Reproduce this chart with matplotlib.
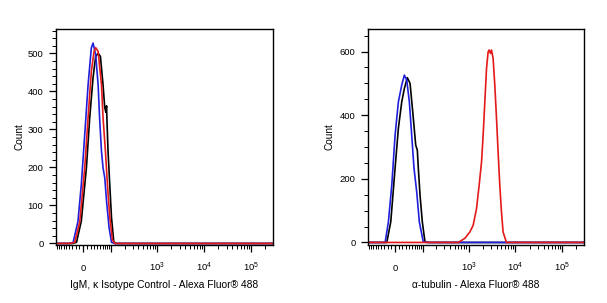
import numpy as np
import matplotlib
matplotlib.use("Agg")
import matplotlib.pyplot as plt
from matplotlib.ticker import FixedLocator, NullFormatter

plt.rcParams['font.family'] = ['Liberation Sans', 'DejaVu Sans']
plt.rcParams['mathtext.fontset'] = 'custom'
plt.rcParams['mathtext.rm'] = 'Liberation Sans'
plt.rcParams['mathtext.it'] = 'Liberation Sans'
plt.rcParams['mathtext.default'] = 'regular'

# ---------------- data (fluorescence intensity, counts) ----------------
XMIN, XMAX = -95, 2.9e5

# Left panel: IgM, kappa isotype control
l_black_x = [XMIN, -30, -18, -5, 8.5, 17.5, 27, 35, 43, 51, 61, 68, 73, 76, 78, 83, 91.5, 101, 114, 125, XMAX]
l_black_y = [0, 0, 3, 59, 199, 331, 436, 492, 500, 492, 417, 357, 345, 362, 321, 242, 155, 68, 6, 0, 0]
l_blue_x = [XMIN, -40, -28, -14, -5, 4, 13, 22, 27, 35, 43, 48, 55, 61, 68, 76, 88, 101, 120, XMAX]
l_blue_y = [0, 0, 2, 58, 155, 286, 417, 514, 527, 496, 417, 331, 242, 199, 173, 111, 42, 3, 0, 0]
l_red_x = [XMIN, -40, -23, -9, 4, 13, 22, 30, 35, 43, 55, 61, 71, 80, 92, 106, 121, XMAX]
l_red_y = [0, 0, 3, 58, 199, 331, 452, 505, 515, 505, 417, 331, 242, 155, 68, 10, 0, 0]

# Right panel: alpha-tubulin
r_black_x = [XMIN, -35, -22.6, -11.5, 0, 8.8, 18, 25.5, 34.5, 43.4, 52.9, 64.6, 71.5, 75.9, 84, 95.8, 111, 140, XMAX]
r_black_y = [0, 0, 0, 65, 234, 359, 442, 484, 518, 500, 411, 306, 290, 234, 149, 65, 2, 0, 0]
r_blue_x = [XMIN, -40, -27.5, -18, -8.8, 0, 8.8, 18, 25.5, 32.7, 41, 49.2, 57.7, 68.8, 80.6, 101, 122, XMAX]
r_blue_y = [0, 0, 0, 65, 180, 337, 442, 495, 526, 510, 442, 337, 234, 159, 65, 2, 0, 0]
r_red_x = [XMIN, 600, 833, 1064, 1251, 1478, 1679, 1888, 2042, 2220, 2412, 2609, 2740, 2934,
           3082, 3333, 3623, 3937, 4259, 4629, 5031, 5440, 6426, 7500, XMAX]
r_red_y = [0, 0, 13, 33, 54, 107, 180, 253, 337, 442, 547, 599, 605, 594,
           605, 579, 495, 391, 285, 180, 96, 33, 0, 0, 0]

x_major = [0, 100, 1000, 10000, 100000]
x_major_labels = ['0', '', r'$10^3$', r'$10^4$', r'$10^5$']
x_minor = ([-90, -80, -70, -60, -50, -40, -30, -20, -10] + list(range(10, 100, 10)) +
           list(range(200, 1000, 100)) + list(range(2000, 10000, 1000)) +
           list(range(20000, 100000, 10000)) + [200000])

panels = [
    dict(series=[(l_black_x, l_black_y, '#000000'), (l_blue_x, l_blue_y, '#1f1fdc'),
                 (l_red_x, l_red_y, '#e41a1a')],
         xlabel='IgM, κ Isotype Control - Alexa Fluor® 488',
         ylim=(-4, 564), ymajor=[0, 100, 200, 300, 400, 500], yminor_step=20,
         rect=[56 / 607, 58 / 303, 217 / 607, 216 / 303], ylabx=-0.143),
    dict(series=[(r_black_x, r_black_y, '#000000'), (r_blue_x, r_blue_y, '#1f1fdc'),
                 (r_red_x, r_red_y, '#e41a1a')],
         xlabel='α-tubulin - Alexa Fluor® 488',
         ylim=(-8, 671), ymajor=[0, 200, 400, 600], yminor_step=50,
         rect=[368 / 607, 58 / 303, 216 / 607, 216 / 303], ylabx=-0.153),
]

W = 54.0
def fwd(x):
    return np.arcsinh(np.asarray(x, dtype=float) / W) / np.log(10)
def inv(y):
    return W * np.sinh(np.asarray(y, dtype=float) * np.log(10))

fig = plt.figure(figsize=(6.07, 3.03), dpi=100)
for p in panels:
    ax = fig.add_axes(p['rect'])
    ax.set_xscale('function', functions=(fwd, inv))
    for xs, ys, c in p['series']:
        ax.plot(xs, ys, color=c, lw=1.2)
    ax.set_xlim(XMIN, XMAX)
    ax.set_ylim(*p['ylim'])
    ax.xaxis.set_major_locator(FixedLocator(x_major))
    ax.set_xticklabels(x_major_labels)
    ax.xaxis.set_minor_locator(FixedLocator(x_minor))
    ax.xaxis.set_minor_formatter(NullFormatter())
    ax.set_yticks(p['ymajor'])
    ym = [v for v in np.arange(0, p['ylim'][1], p['yminor_step']) if v not in p['ymajor']]
    ax.yaxis.set_minor_locator(FixedLocator(ym))
    ax.tick_params(axis='both', which='major', direction='out', length=5, width=0.9,
                   labelsize=6.8, color='black')
    ax.tick_params(axis='both', which='minor', direction='out', length=3, width=0.7)
    ax.tick_params(axis='x', which='major', pad=14)
    ax.tick_params(axis='y', which='major', pad=4)
    for t in ax.get_xticklabels():
        t.set_verticalalignment('baseline')
    for s in ax.spines.values():
        s.set_linewidth(1.0)
    ax.set_ylabel('Count', fontsize=7.2)
    ax.yaxis.set_label_coords(p['ylabx'], 0.5)
    ax.set_xlabel(p['xlabel'], fontsize=7.4, va='center')
    ax.xaxis.set_label_coords(0.5, -0.185)

fig.savefig('out.png', dpi=100)
